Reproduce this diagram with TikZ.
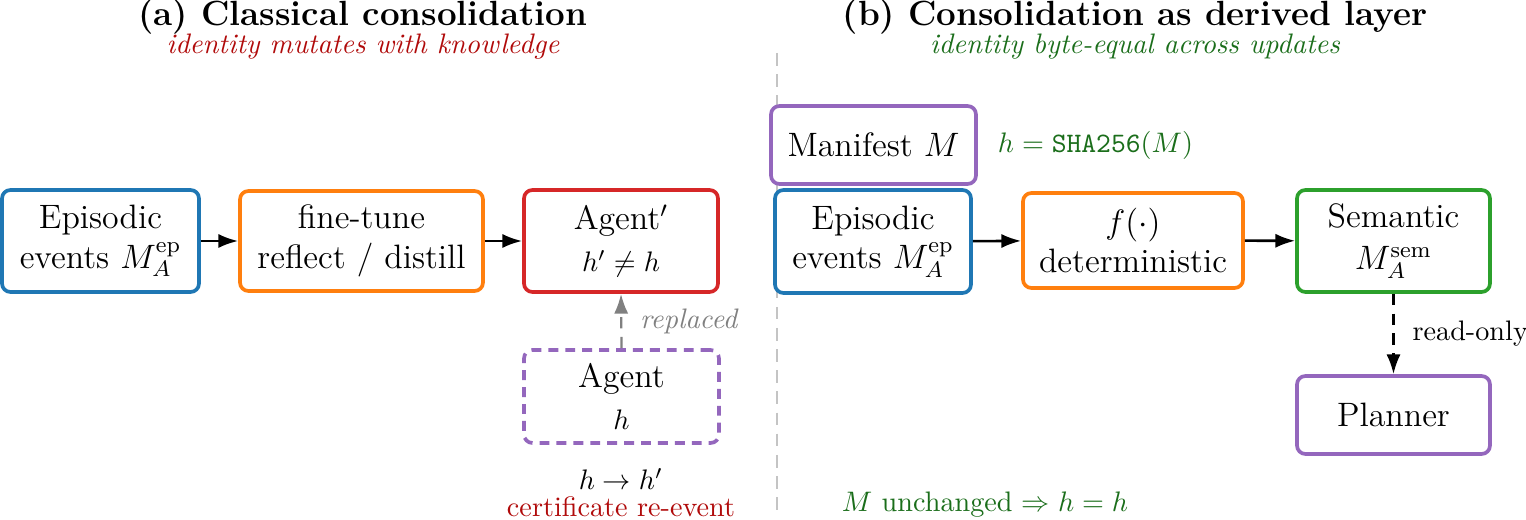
\documentclass[tikz,border=0pt]{standalone}
\usetikzlibrary{arrows.meta}
\definecolor{cblue}{HTML}{1F77B4}
\definecolor{corange}{HTML}{FF7F0E}
\definecolor{cred}{HTML}{D62728}
\definecolor{cgreen}{HTML}{2CA02C}
\definecolor{cpurple}{HTML}{9467BD}
\definecolor{tred}{HTML}{B00A0A}
\definecolor{tgreen}{HTML}{1B6E1B}
\definecolor{divgray}{HTML}{C4C4C4}
\def\pu{0.3546pt}
\begin{document}
\begin{tikzpicture}[x=0.3546pt,y=-0.3546pt,
  box/.style={draw,fill=white,rounded corners=3pt,line width=1.3pt,align=center,inner sep=0pt,font=\large},
  arr/.style={-{Latex[length=7pt,width=5pt]},line width=0.9pt},
  titletext/.style={font=\fontsize{12.4}{15}\selectfont\bfseries},
  subtitle/.style={font=\itshape},
  divider/.style={draw=divgray,line width=0.6pt,dash pattern=on 4.5pt off 3pt}]
\useasboundingbox (0,0) rectangle (1526,520);
% titles
\node[titletext] (ta) at (363,17) {(a) Classical consolidation};
\node[subtitle,text=tred] (sa) at (363,47) {identity mutates with knowledge};
\node[titletext] (tb) at (1135,17) {(b) Consolidation as derived layer};
\node[subtitle,text=tgreen] (sb) at (1135,47) {identity byte-equal across updates};
% divider
\coordinate (dtop) at (777,53);
\coordinate (dbot) at (777,515);
\draw[divider] (dtop) -- (dbot);
% left panel
\node[box,draw=cblue,minimum width=197*\pu,minimum height=102*\pu] (ep1) at (100.5,241) {Episodic\\events $M_A^{\mathrm{ep}}$};
\node[box,draw=corange,minimum width=243*\pu,minimum height=100*\pu] (ft) at (361.5,241) {fine-tune\\reflect / distill};
\node[box,draw=cred,minimum width=194*\pu,minimum height=102*\pu] (agp) at (621,241) {Agent$'$\\[1pt]{\normalsize $h'\neq h$}};
\node[box,draw=cpurple,dash pattern=on 3.5pt off 2.5pt,minimum width=195*\pu,minimum height=93*\pu] (ag) at (621.5,396.5) {Agent\\[1pt]{\normalsize $h$}};
\draw[arr] (ep1) -- (ft);
\draw[arr] (ft) -- (agp);
\draw[arr,draw=gray,dash pattern=on 4pt off 3pt,line width=0.8pt] (ag.north) -- node[midway,right=3pt,text=gray,font=\itshape] {replaced} (agp.south);
\node (hh) at (621,479) {$h\to h'$};
\node[text=tred] (cert) at (621,507) {certificate re-event};
% right panel
\node[box,draw=cpurple,minimum width=205*\pu,minimum height=78*\pu] (man) at (873.5,145) {Manifest $M$};
\node[anchor=west,text=tgreen] (sha) at (988,145) {$h=\texttt{SHA256}(M)$};
\node[box,draw=cblue,minimum width=196*\pu,minimum height=103*\pu] (ep2) at (873,241.5) {Episodic\\events $M_A^{\mathrm{ep}}$};
\node[box,draw=corange,minimum width=220*\pu,minimum height=95*\pu] (det) at (1133,240.5) {$f(\cdot)$\\deterministic};
\node[box,draw=cgreen,minimum width=193*\pu,minimum height=102*\pu] (sem) at (1393.5,241) {Semantic\\[1pt]$M_A^{\mathrm{sem}}$};
\node[box,draw=cpurple,minimum width=193*\pu,minimum height=78*\pu] (plan) at (1393.5,415) {Planner};
\draw[arr] (ep2) -- (det);
\draw[arr] (det) -- (sem);
\draw[arr,dash pattern=on 4pt off 3pt] (sem) -- node[midway,right=3pt] {read-only} (plan);
\node[text=tgreen] (unch) at (985,505) {$M$ unchanged $\Rightarrow h=h$};
\end{tikzpicture}
\end{document}
